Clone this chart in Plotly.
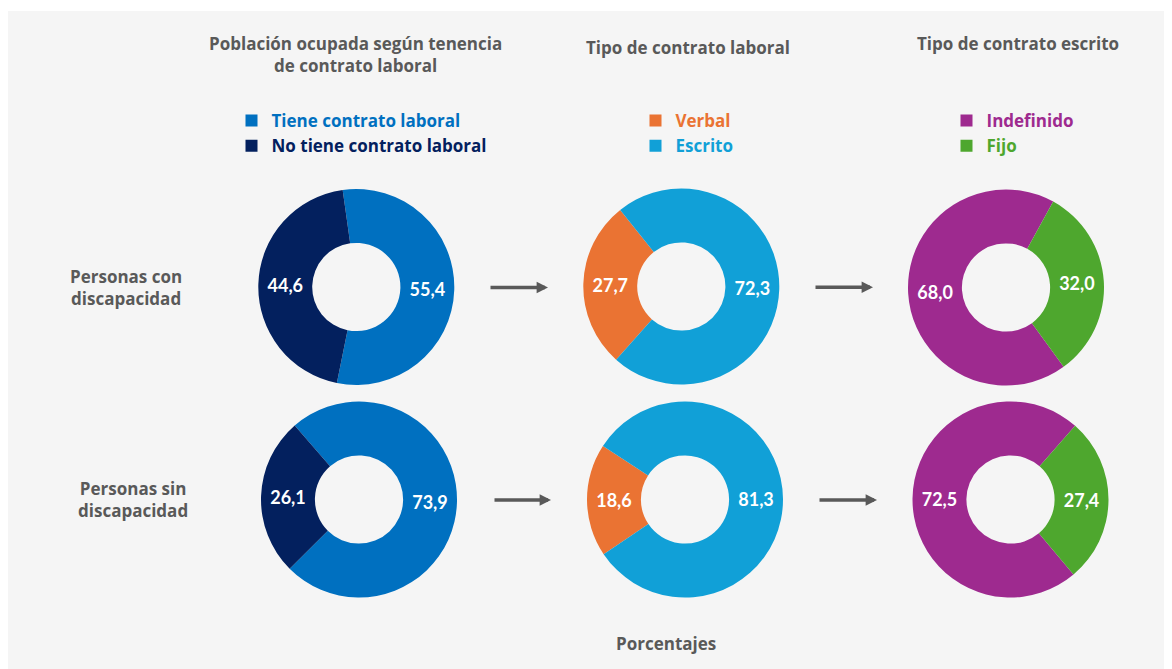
import plotly.graph_objects as go

# ---- data ----
row_labels = ["Personas con<br>discapacidad", "Personas sin<br>discapacidad"]
col_titles = ["Población ocupada según tenencia<br>de contrato laboral",
              "Tipo de contrato laboral",
              "Tipo de contrato escrito"]
labels_tenencia = ["Tiene contrato laboral", "No tiene contrato laboral"]
labels_tipo = ["Verbal", "Escrito"]
labels_escrito = ["Indefinido", "Fijo"]
tenencia_con = [55.4, 44.6]
tenencia_sin = [73.9, 26.1]
tipo_con = [27.7, 72.3]
tipo_sin = [18.6, 81.3]
escrito_con = [68.0, 32.0]
escrito_sin = [72.5, 27.4]
unit_note = "Porcentajes"

# ---- style ----
colors_tenencia = ["#0070C0", "#03205E"]
colors_tipo = ["#EA7333", "#11A0D7"]
colors_escrito = ["#9E2A8F", "#4EA72E"]
GRAY = "#595959"
BG = "#F5F5F5"
FONT = "Open Sans"
NUMFONT = "Lato"

W, H = 1164, 661
OX, OY = 8, 8
R = 98


def fx(px):
    return (px - OX) / W


def fy(py):
    return 1 - (py - OY) / H


def fmt(v):
    return f"{v:.1f}".replace(".", ",")


def colored(labels, colors):
    return [f'<span style="color:{c}">{l}</span>' for l, c in zip(labels, colors)]


fig = go.Figure()

columns = [
    (labels_tenencia, colors_tenencia, [tenencia_con, tenencia_sin], "legend", [-8, -41]),
    (labels_tipo, colors_tipo, [tipo_con, tipo_sin], "legend2", [221.7, 236.1]),
    (labels_escrito, colors_escrito, [escrito_con, escrito_sin], "legend3", [-216, -220]),
]
centers = [
    [(356.3, 287), (359, 499.5)],
    [(681.3, 286.5), (685, 499.5)],
    [(1006, 287.5), (1010.5, 499.5)],
]

for ci, (labs, cols, series, leg, rots) in enumerate(columns):
    for ri, vals in enumerate(series):
        cx, cy = centers[ci][ri]
        fig.add_trace(go.Pie(
            labels=colored(labs, cols),
            values=vals,
            text=[fmt(v) for v in vals],
            textinfo="text",
            textposition="inside",
            insidetextorientation="horizontal",
            insidetextfont=dict(family=NUMFONT, size=18, color="white", weight=700),
            marker=dict(colors=cols, line=dict(width=0)),
            hole=0.45,
            sort=False,
            direction="clockwise",
            rotation=rots[ri],
            domain=dict(x=[fx(cx - R), fx(cx + R)], y=[fy(cy + R), fy(cy - R)]),
            legend=leg,
            showlegend=(ri == 0),
            hoverinfo="skip",
        ))

txt_font = dict(family=FONT, size=17, color=GRAY, weight=700)
ann = []
# column titles
title_pos = [(355, 54.5), (688, 47), (1018, 44)]
for t, (x, y) in zip(col_titles, title_pos):
    ann.append(dict(text=t, x=fx(x), y=fy(y), xref="paper", yref="paper",
                    xanchor="center", yanchor="middle", showarrow=False, font=txt_font))
# row labels
row_pos = [(126, 287), (133, 499.5)]
for t, (x, y) in zip(row_labels, row_pos):
    ann.append(dict(text=t, x=fx(x), y=fy(y), xref="paper", yref="paper",
                    xanchor="center", yanchor="middle", showarrow=False, font=txt_font))
# note
ann.append(dict(text=unit_note, x=fx(666), y=fy(643), xref="paper", yref="paper",
                xanchor="center", yanchor="middle", showarrow=False, font=txt_font))
# arrows
arrows = [((548, 287.5), 59), ((873, 287.3), 59), ((551, 500), 58), ((877, 500), 59)]
for (x, y), L in arrows:
    ann.append(dict(text="", x=fx(x), y=fy(y), xref="paper", yref="paper",
                    ax=-L, ay=0, showarrow=True, arrowhead=2, arrowsize=0.65,
                    arrowwidth=3.5, arrowcolor=GRAY))

leg_font = dict(family=FONT, size=17, weight=700)
legend_common = dict(xanchor="left", yanchor="top", bgcolor="rgba(0,0,0,0)",
                     font=leg_font, itemclick=False, itemdoubleclick=False,
                     tracegroupgap=0)

fig.update_layout(
    width=W, height=H,
    margin=dict(l=0, r=0, t=0, b=0),
    paper_bgcolor=BG,
    plot_bgcolor=BG,
    annotations=ann,
    shapes=[dict(type="rect", xref="paper", yref="paper", x0=0, x1=1,
                 y0=fy(11), y1=1, fillcolor="white", line=dict(width=0), layer="below")],
    legend=dict(x=fx(231.5), y=fy(103), **legend_common),
    legend2=dict(x=fx(635.5), y=fy(103), **legend_common),
    legend3=dict(x=fx(946.5), y=fy(103), **legend_common),
)

fig.write_html("out.html")
